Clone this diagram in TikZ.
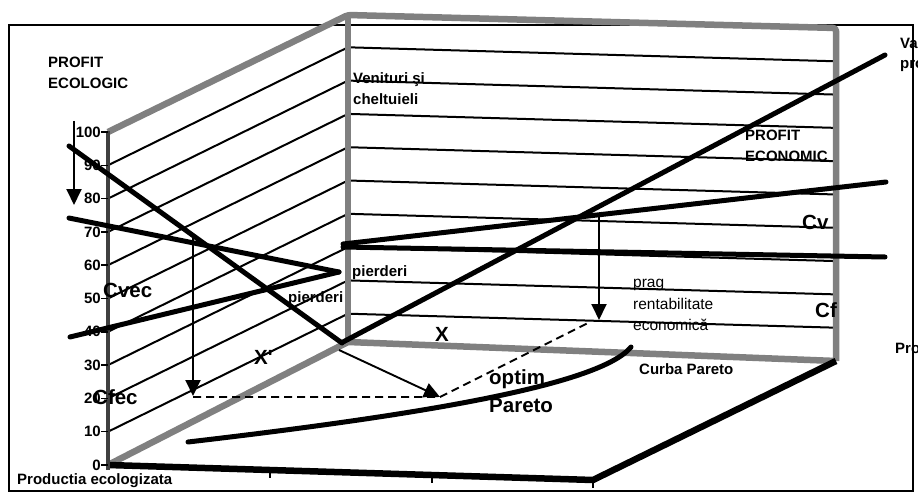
\documentclass[tikz,border=0pt]{standalone}
\usepackage{fontspec}
\setmainfont{Liberation Sans}
\usetikzlibrary{arrows.meta}
\begin{document}
\begin{tikzpicture}[x=1pt,y=-1pt,
  gridl/.style={line width=2pt},
  wall/.style={line width=6.5pt,draw=gray,line join=round},
  axisc/.style={line width=4.5pt,draw=black!75},
  curve/.style={line width=5pt,line cap=round},
  floorl/.style={line width=6.5pt,line join=round},
  arr/.style={line width=1.9pt,-{Triangle[width=15pt,length=16pt]}},
  dsh/.style={line width=1.9pt,dash pattern=on 8pt off 5pt},
  tickl/.style={line width=1.5pt},
  lbl/.style={font=\fontsize{15}{18}\selectfont\bfseries,inner sep=0pt},
  big/.style={font=\fontsize{20.5}{24}\selectfont\bfseries,inner sep=0pt},
  reg/.style={font=\fontsize{15.5}{18}\selectfont,inner sep=0pt}]
\clip (0,0) rectangle (918,492);
% frame
\draw[line width=1.3pt] (9,25) rectangle (913,491);
% key points
\coordinate (A0) at (108,465);
\coordinate (A100) at (108,132);
\coordinate (B0) at (348,342);
\coordinate (Btop) at (348,15);
\coordinate (Ctop) at (836,28);
\coordinate (C0) at (836,361);
\coordinate (D0) at (593,480);
% grid lines on the two walls
\foreach \k in {1,...,9}{
  \pgfmathsetmacro{\yy}{465-33.3*\k}
  \draw[gridl] (108,\yy) -- (348,\yy-118) -- (836,\yy-104);
}
% walls
\draw[wall] (A0) -- (B0) -- (C0);
\draw[wall] (Btop) -- (B0);
\draw[wall,rounded corners=3pt] (A100) -- (Btop) -- (Ctop) -- (C0);
% floor front edges
\draw[floorl] (A0) -- (D0) -- (C0);
\draw[tickl] (270,470) -- (270,478);
\draw[tickl] (432,475) -- (432,483);
\draw[tickl] (593,480) -- (593,488);
% left axis
\draw[axisc] (108,470) -- (108,131);
\foreach \v in {0,10,...,100}{
  \pgfmathsetmacro{\yy}{465-3.33*\v}
  \draw[tickl] (101,\yy) -- (108,\yy);
  \node[lbl,anchor=east] (t\v) at (101,\yy) {\v};
}
% ecological lines
\coordinate (L1a) at (69,146); \coordinate (L1b) at (342,343);
\coordinate (L2a) at (69,218); \coordinate (P) at (339,272);
\coordinate (L3a) at (70,337);
\draw[curve] (L1a) -- (L1b);
\draw[curve] (L2a) -- (P);
\draw[curve] (L3a) -- (P);
% economic lines
\coordinate (R0) at (343,342); \coordinate (R1) at (885,55);
\coordinate (V0) at (343,244); \coordinate (V1) at (886,182);
\coordinate (F0) at (343,247); \coordinate (F1) at (885,257);
\draw[curve] (R0) -- (R1);
\draw[curve] (V0) -- (V1);
\draw[curve] (F0) -- (F1);
% arrows
\coordinate (ya) at (74,121); \coordinate (yb) at (74,205);
\draw[arr] (ya) -- (yb);
\coordinate (la) at (193,238); \coordinate (lb) at (193,396);
\draw[arr] (la) -- (lb);
\coordinate (ba) at (599,215); \coordinate (bb) at (599,320);
\draw[arr] (ba) -- (bb);
\coordinate (fa) at (339,350); \coordinate (opt) at (440,397);
\coordinate (dl) at (193,397); \coordinate (dr) at (590,322);
\draw[dsh] (dl) -- (opt) -- (dr);
\draw[arr] (fa) -- (opt);
% Pareto curve
\coordinate (pa) at (188,442); \coordinate (pb) at (631,347);
\draw[curve] (pa) .. controls (420,415) and (600,385) .. (pb);
% labels
\node[lbl,anchor=base west] (pe1) at (48,68) {PROFIT};
\node[lbl,anchor=base west] (pe2) at (48,89) {ECOLOGIC};
\node[lbl,anchor=base west] (vc1) at (353,84) {Venituri şi};
\node[lbl,anchor=base west] (vc2) at (353,105) {cheltuieli};
\node[lbl,anchor=base west] (pn1) at (745,140) {PROFIT};
\node[lbl,anchor=base west] (pn2) at (745,161) {ECONOMIC};
\node[big,anchor=base west] (cv) at (802,229) {Cv};
\node[big,anchor=base west] (cf) at (815,317) {Cf};
\node[lbl,anchor=base west] (pd1) at (352,276) {pierderi};
\node[lbl,anchor=base west] (pd2) at (288,302) {pierderi};
\node[reg,anchor=base west] (pr1) at (633,287) {prag};
\node[reg,anchor=base west] (pr2) at (633,309) {rentabilitate};
\node[reg,anchor=base west] (pr3) at (633,330) {economică};
\node[lbl,anchor=base west] (cp) at (639,374) {Curba Pareto};
\node[big,anchor=base west] (op1) at (489,384) {optim};
\node[big,anchor=base west] (op2) at (489,412) {Pareto};
\node[big,anchor=base] (xx) at (442,341) {X};
\node[big,anchor=base west] (xp) at (254,364) {X\textquotesingle};
\node[big,anchor=base west] (cvec) at (103,297) {Cvec};
\node[big,anchor=base west] (cfec) at (93,404) {Cfec};
\node[lbl,anchor=base west] (pe) at (17,484) {Productia ecologizata};
\node[lbl,anchor=base west] (va) at (900,49) {Va};
\node[lbl,anchor=base west] (vp) at (900,69) {pro};
\node[lbl,anchor=base west] (prd) at (895,353) {Pro};
\end{tikzpicture}
\end{document}
